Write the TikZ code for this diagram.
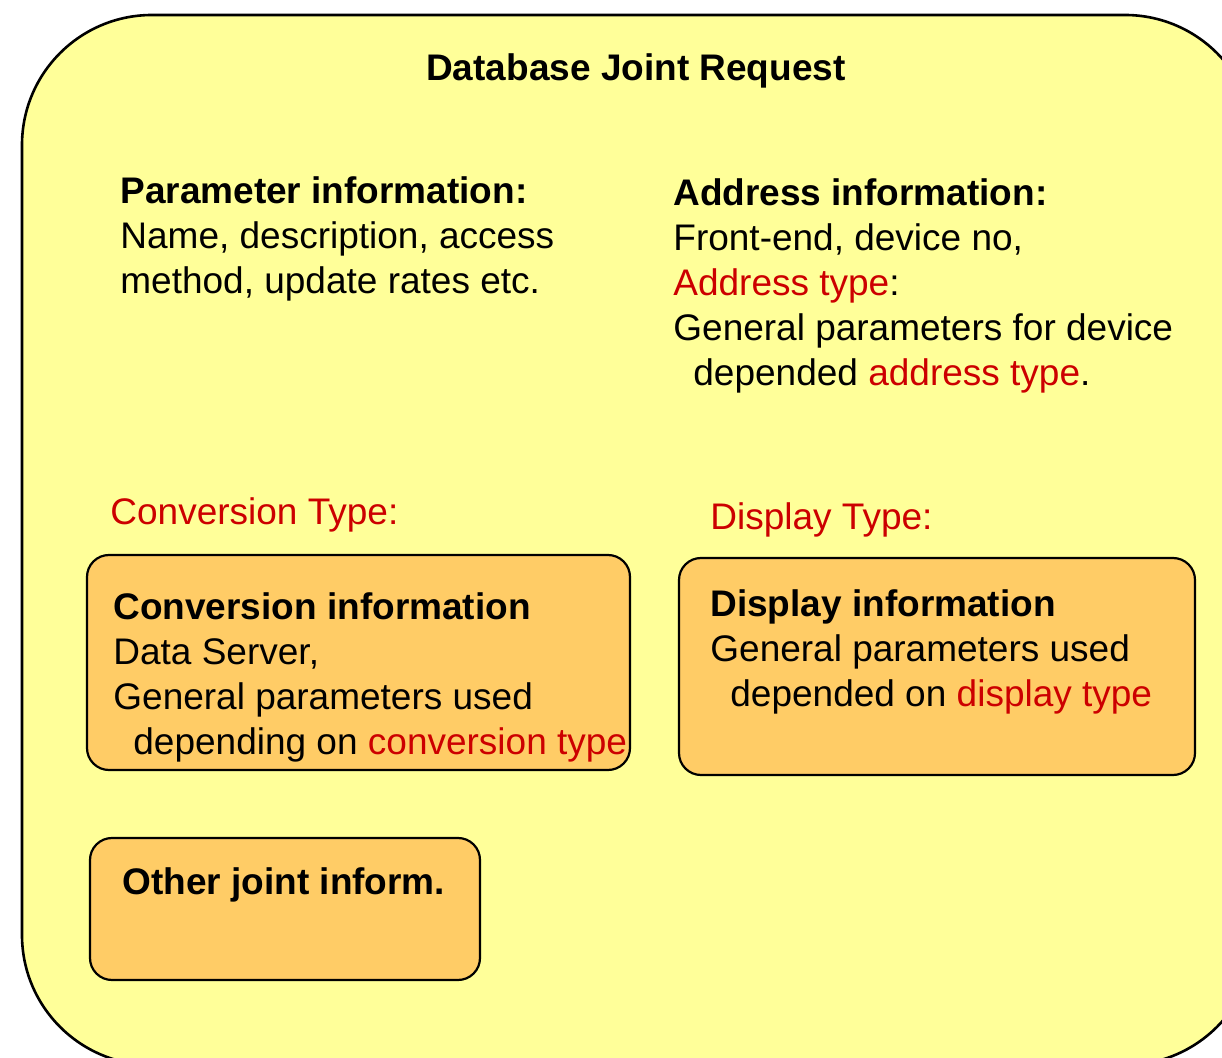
\documentclass[tikz,border=0pt]{standalone}
\usepackage{fontspec}
\setmainfont{Liberation Sans}
\usetikzlibrary{fit}
\usetikzlibrary{positioning}
\definecolor{reqyellow}{HTML}{FFFF99}
\definecolor{infoorange}{HTML}{FFCC66}
\definecolor{typered}{HTML}{CC0000}
\newcommand{\typ}[1]{\textcolor{typered}{#1}}
\newcommand{\ind}{\hspace*{10pt}}
\tikzset{every picture/.style={x=0.5pt, y=-0.5pt}}
\tikzstyle{request}  = [draw, line width=1.3pt, fill=reqyellow, rounded corners=65pt, inner sep=0pt]
\tikzstyle{infobox}  = [draw, line width=1.1pt, fill=infoorange, rounded corners=11pt, inner sep=0pt]
\tikzstyle{infotext} = [font=\fontsize{18.5}{22.5}\selectfont, align=left, inner sep=0pt, anchor=north west]
\tikzstyle{typetext} = [infotext, anchor=base west, text=typered]

\begin{document}
\begin{tikzpicture}
	\clip (0,0) rectangle (1222,1058);

	% Rahmen
	\node[request, fit={(22,15) (1255,1065)}] (req) {};
	\node[infotext, anchor=base] (title) at (636,81) {\bfseries Database Joint Request};

	% Parameter / Adresse
	\node[infotext] (param) at (120,176)
		{\bfseries Parameter information:\\
		 Name, description, access\\
		 method, update rates etc.};
	\node[infotext] (addr) at (673,178)
		{\bfseries Address information:\\
		 Front-end, device no,\\
		 \typ{Address type}:\\
		 General parameters for device\\
		 \ind depended \typ{address type}.};

	% Typen
	\node[typetext] (convtype) at (110,525) {Conversion Type:};
	\node[typetext] (disptype) at (710,530) {Display Type:};

	% Kaesten
	\node[infobox, fit={(87,555) (630,770)}] (conv) {};
	\node[infobox, fit={(679,558) (1195,775)}] (disp) {};
	\node[infobox, fit={(90,838) (480,980)}] (other) {};

	\node[infotext] (convinfo) at (113,592)
		{\bfseries Conversion information\\
		 Data Server,\\
		 General parameters used\\
		 \ind depending on \typ{conversion type}};
	\node[infotext] (dispinfo) at (710,589)
		{\bfseries Display information\\
		 General parameters used\\
		 \ind depended on \typ{display type}};
	\node[infotext, anchor=base west] (otherinfo) at (122,894) {\bfseries Other joint inform.};
\end{tikzpicture}
\end{document}
